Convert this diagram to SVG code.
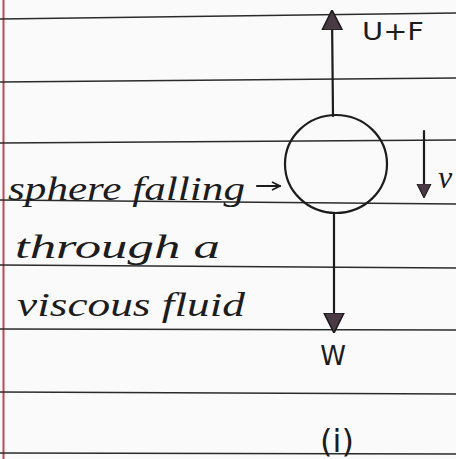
<svg xmlns="http://www.w3.org/2000/svg" width="456" height="459" viewBox="0 0 456 459">
<style>
.rule{stroke:#2b2b2b;stroke-width:1.6;fill:none}
.ink{stroke:#1c1c1c;stroke-width:2.2;fill:none;stroke-linecap:round}
.hand{font-family:"Liberation Serif",serif;font-style:italic;fill:#1c1c1c}
.lab{font-family:"DejaVu Sans",sans-serif;fill:#1c1c1c}
</style>
<defs>
<marker id="big" viewBox="0 0 10 10" refX="8" refY="5" markerWidth="20" markerHeight="22" markerUnits="userSpaceOnUse" orient="auto">
<path d="M0,0 L10,5 L0,10 Z" fill="#4a3a44" stroke="#1c1c1c" stroke-width="0.8"/>
</marker>
<marker id="small" viewBox="0 0 10 10" refX="8" refY="5" markerWidth="14" markerHeight="16" markerUnits="userSpaceOnUse" orient="auto">
<path d="M0,0 L10,5 L0,10 Z" fill="#4a3a44" stroke="#1c1c1c" stroke-width="0.8"/>
</marker>
<marker id="open" viewBox="0 0 10 10" refX="9" refY="5" markerWidth="10" markerHeight="10" markerUnits="userSpaceOnUse" orient="auto">
<path d="M1,1 L9,5 L1,9" fill="none" stroke="#1c1c1c" stroke-width="1.6"/>
</marker>
</defs>
<rect width="456" height="459" fill="#fbfafa"/>
<g id="paper">
<line x1="3.5" y1="0" x2="3.5" y2="459" stroke="#c0485a" stroke-width="2"/>
<path class="rule" d="M0,19 L456,13"/>
<path class="rule" d="M0,82 L456,78"/>
<path class="rule" d="M0,143 L456,140"/>
<path class="rule" d="M0,200 L456,204"/>
<path class="rule" d="M0,265 L456,268"/>
<path class="rule" d="M0,329 L456,330"/>
<path class="rule" d="M0,392 L456,394"/>
<path class="rule" d="M0,453 L456,454"/>
</g>
<g id="connectors">
<line class="ink" x1="333" y1="116" x2="332" y2="14" marker-end="url(#big)"/>
<line class="ink" x1="334" y1="213" x2="334" y2="329" marker-end="url(#big)"/>
<line class="ink" x1="424" y1="131" x2="424" y2="195" marker-end="url(#small)"/>
<line class="ink" x1="257" y1="186" x2="280" y2="186" marker-end="url(#open)"/>
</g>
<g id="sphere">
<ellipse class="ink" cx="336" cy="164" rx="51" ry="49"/>
</g>
<g id="label-upthrust">
<text class="lab" x="362" y="40" font-size="24" textLength="62" lengthAdjust="spacingAndGlyphs">U+F</text>
</g>
<g id="label-weight">
<text class="lab" x="333" y="365" font-size="26" text-anchor="middle">W</text>
</g>
<g id="label-velocity">
<text class="hand" x="438" y="188" font-size="32">v</text>
</g>
<g id="caption">
<text class="hand" x="8" y="200" font-size="34" textLength="237" lengthAdjust="spacingAndGlyphs">sphere falling</text>
<text class="hand" x="15" y="258" font-size="34" textLength="205" lengthAdjust="spacingAndGlyphs">through a</text>
<text class="hand" x="17" y="316" font-size="34" textLength="228" lengthAdjust="spacingAndGlyphs">viscous fluid</text>
</g>
<g id="label-figure">
<text class="lab" x="337" y="452" font-size="32" text-anchor="middle">(i)</text>
</g>
</svg>
